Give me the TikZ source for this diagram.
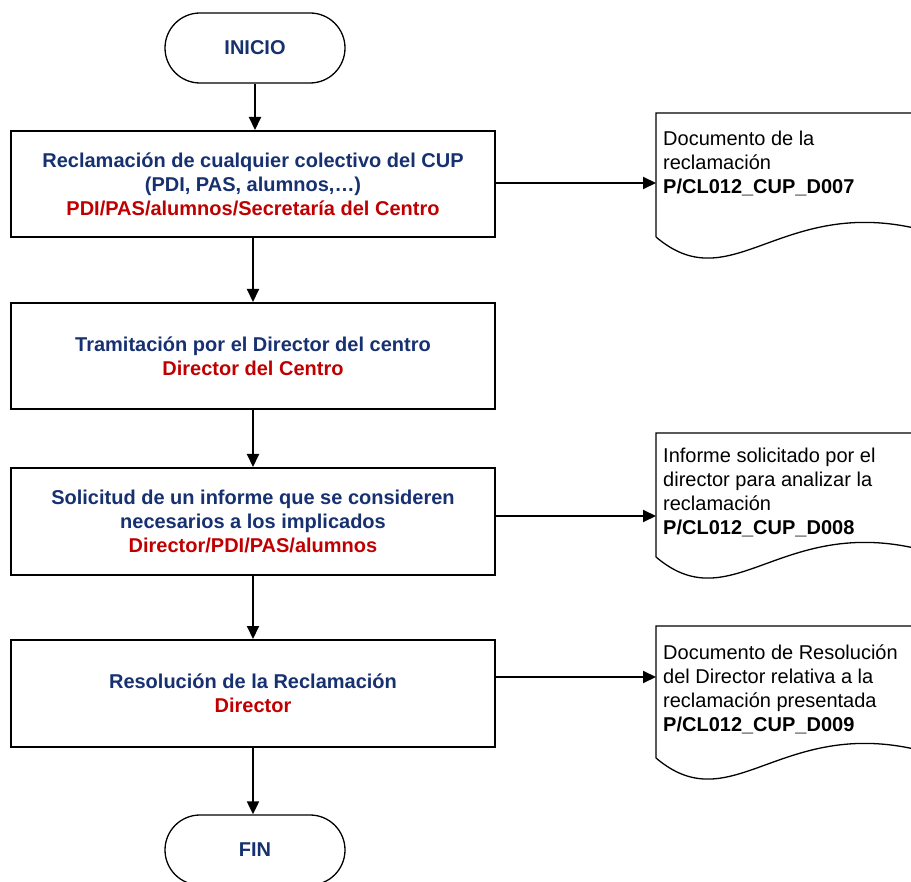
\documentclass[tikz,border=0pt]{standalone}
\usepackage{fontspec}
\setmainfont{Liberation Sans}
\usetikzlibrary{arrows.meta}
\definecolor{navy}{RGB}{22,48,112}
\definecolor{dred}{RGB}{192,0,0}
\begin{document}
\begin{tikzpicture}[x=1pt,y=-1pt,
  proc/.style={draw, line width=2pt, minimum width=484pt, align=center,
    font=\bfseries\fontsize{20}{24}\selectfont, inner sep=0pt},
  term/.style={draw, line width=1.3pt, rounded corners=35pt, minimum width=180pt,
    minimum height=70pt, text=navy, font=\bfseries\fontsize{20}{24}\selectfont},
  flow/.style={-{Triangle[length=13pt,width=12pt]}, line width=2pt},
  doctext/.style={anchor=north west, align=left, inner sep=0pt,
    font=\fontsize{20}{24}\selectfont},
  docline/.style={line width=1.3pt, line join=miter}]
\useasboundingbox (0,0) rectangle (911,882);
\clip (0,0) rectangle (911,882);

% terminals
\node[term] (ini) at (255,48) {INICIO};
\node[term] (fin) at (255,850) {FIN};

% process boxes
\node[proc, minimum height=106pt] (b1) at (253,184)
  {\textcolor{navy}{Reclamación de cualquier colectivo del CUP}\\
   \textcolor{navy}{(PDI, PAS, alumnos,…)}\\
   \textcolor{dred}{PDI/PAS/alumnos/Secretaría del Centro}};
\node[proc, minimum height=106pt] (b2) at (253,356)
  {\textcolor{navy}{Tramitación por el Director del centro}\\
   \textcolor{dred}{Director del Centro}};
\node[proc, minimum height=107pt] (b3) at (253,521.5)
  {\textcolor{navy}{Solicitud de un informe que se consideren}\\
   \textcolor{navy}{necesarios a los implicados}\\
   \textcolor{dred}{Director/PDI/PAS/alumnos}};
\node[proc, minimum height=107pt] (b4) at (253,693.5)
  {\textcolor{navy}{Resolución de la Reclamación}\\
   \textcolor{dred}{Director}};

% documents (shapes)
\draw[docline] (656,237) -- (656,113) -- (946,113) -- (946,237)
  (656,237) .. controls (736,305) and (786,182) .. (946,237);
\draw[docline] (656,557) -- (656,433) -- (946,433) -- (946,557)
  (656,557) .. controls (736,625) and (786,502) .. (946,557);
\draw[docline] (656,758) -- (656,626) -- (946,626) -- (946,758)
  (656,758) .. controls (736,826) and (786,703) .. (946,758);

\node[doctext] (d1) at (663,130.6)
  {Documento de la\\reclamación\\\textbf{P/CL012\_CUP\_D007}};
\node[doctext] (d2) at (663,447.6)
  {Informe solicitado por el\\director para analizar la\\reclamación\\\textbf{P/CL012\_CUP\_D008}};
\node[doctext] (d3) at (663,644.6)
  {Documento de Resolución\\del Director relativa a la\\reclamación presentada\\\textbf{P/CL012\_CUP\_D009}};

\coordinate (d1in) at (656,183);
\coordinate (d2in) at (656,516);
\coordinate (d3in) at (656,677);

% connectors
\draw[flow] (ini.south) -- (ini.south |- b1.north);
\draw[flow] (b1.south) -- (b2.north);
\draw[flow] (b2.south) -- (b3.north);
\draw[flow] (b3.south) -- (b4.north);
\draw[flow] (b4.south) -- (b4.south |- fin.north);
\draw[flow] (b1.east |- d1in) -- (d1in);
\draw[flow] (b3.east |- d2in) -- (d2in);
\draw[flow] (b4.east |- d3in) -- (d3in);
\end{tikzpicture}
\end{document}
